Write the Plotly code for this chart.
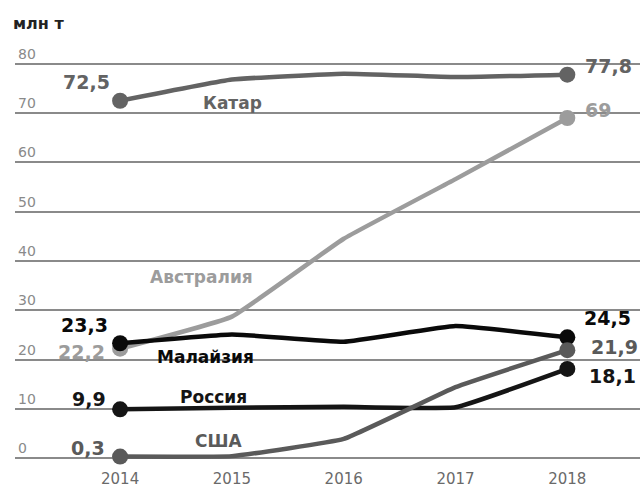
import plotly.graph_objects as go

years = [2014, 2015, 2016, 2017, 2018]
qatar = [72.5, 76.8, 78.0, 77.3, 77.8]
australia = [22.2, 28.7, 44.5, 56.6, 69.0]
malaysia = [23.3, 25.1, 23.6, 26.8, 24.5]
russia = [9.9, 10.2, 10.4, 10.3, 18.1]
usa = [0.3, 0.4, 3.9, 14.4, 21.9]
y_ticks = [0, 10, 20, 30, 40, 50, 60, 70, 80]

C_Q, C_A, C_M, C_R, C_U = "#636363", "#9c9c9c", "#0a0a0a", "#151515", "#5a5a5a"
series = [(qatar, C_Q), (australia, C_A), (malaysia, C_M), (russia, C_R), (usa, C_U)]

FONT = "DejaVu Sans"
fig = go.Figure()
for vals, col in series:
    fig.add_trace(go.Scatter(
        x=years, y=vals, mode="lines",
        line=dict(color=col, width=4.5, shape="spline", smoothing=0.3),
        hoverinfo="skip", showlegend=False))
    fig.add_trace(go.Scatter(
        x=[years[0], years[-1]], y=[vals[0], vals[-1]], mode="markers",
        marker=dict(color=col, size=16), hoverinfo="skip", showlegend=False))

ann = []
starts = [("72,5", qatar, C_Q, -8, 19), ("22,2", australia, C_A, -13, -3),
          ("23,3", malaysia, C_M, -10, 18), ("9,9", russia, C_R, -12, 10),
          ("0,3", usa, C_U, -13, 9)]
for t, vals, c, xs, ys in starts:
    ann.append(dict(x=years[0], y=vals[0], text="<b>" + t + "</b>", xshift=xs, yshift=ys,
                    xanchor="right", fc=c, fs=19))
ends = [("77,8", qatar, C_Q, 16, 9), ("69", australia, C_A, 16, 8),
        ("24,5", malaysia, C_M, 15, 19), ("21,9", usa, C_U, 22, 3),
        ("18,1", russia, C_R, 20, -7)]
for t, vals, c, xs, ys in ends:
    ann.append(dict(x=years[-1], y=vals[-1], text="<b>" + t + "</b>", xshift=xs, yshift=ys,
                    xanchor="left", fc=c, fs=19))
names = [("Катар", 2014.72, 72.1, C_Q), ("Австралия", 2014.25, 36.75, C_A),
         ("Малайзия", 2014.31, 20.5, C_M), ("Россия", 2014.52, 12.4, C_R),
         ("США", 2014.65, 3.45, C_U)]
for t, xx, yy, c in names:
    ann.append(dict(x=xx, y=yy, text="<b>" + t + "</b>", xanchor="left", fc=c, fs=17))

annotations = []
for a in ann:
    col = a.pop("fc")
    fs = a.pop("fs")
    a.update(showarrow=False, xref="x", yref="y", font=dict(family=FONT, size=fs, color=col))
    annotations.append(a)

for v in y_ticks:
    annotations.append(dict(x=0.002, xref="paper", y=v, yref="y", text=str(v), showarrow=False,
                            xanchor="left", yanchor="bottom", yshift=0,
                            font=dict(family=FONT, size=14, color="#8a8a8a")))
annotations.append(dict(x=-0.006, xref="paper", y=1.037, yref="paper", text="<b>млн т</b>", showarrow=False,
                        xanchor="left", yanchor="bottom", font=dict(family=FONT, size=16, color="#222222")))

fig.update_layout(
    width=644, height=488,
    margin=dict(l=15, r=4, t=50, b=23),
    paper_bgcolor="white", plot_bgcolor="white",
    annotations=annotations,
    xaxis=dict(range=[2013.06, 2018.65], tickvals=years, ticktext=[str(y) for y in years],
               showgrid=False, zeroline=False, showline=False, ticks="",
               ticklabelstandoff=3, automargin=False,
               tickfont=dict(family=FONT, size=15, color="#6a6a6a")),
    yaxis=dict(range=[-1.4, 82.8], tickvals=y_ticks, showticklabels=False, automargin=False,
               showgrid=True, gridcolor="#8a8a8a", gridwidth=1.5, zeroline=False),
)
fig.write_html("out.html", config={"displayModeBar": False},
               post_script="document.body.style.margin='0';document.body.style.overflow='hidden';")
